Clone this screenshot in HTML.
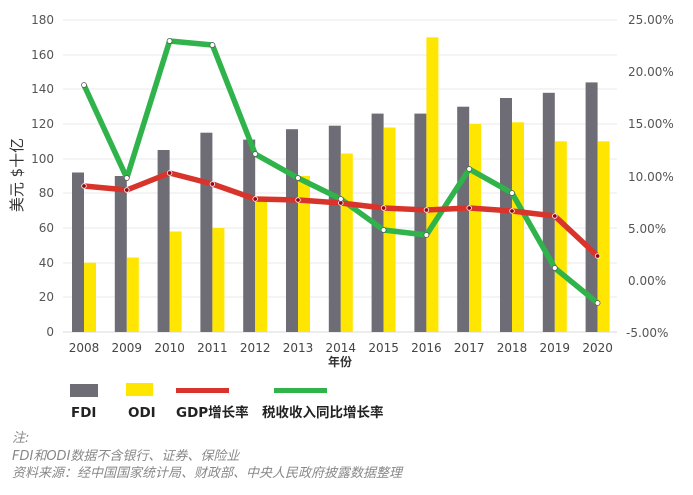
<!DOCTYPE html>
<html><head><meta charset="utf-8"><style>
body{margin:0;background:#fff;width:693px;height:495px;overflow:hidden}
svg{display:block}
text{font-family:"DejaVu Sans","Noto Sans CJK SC",sans-serif}
</style></head><body>
<svg width="693" height="495" viewBox="0 0 693 495">
<g stroke="#e8e8e8" stroke-width="1">
<line x1="63" x2="617" y1="20" y2="20"/><line x1="63" x2="617" y1="55" y2="55"/><line x1="63" x2="617" y1="89" y2="89"/><line x1="63" x2="617" y1="124" y2="124"/><line x1="63" x2="617" y1="159" y2="159"/><line x1="63" x2="617" y1="193" y2="193"/><line x1="63" x2="617" y1="228" y2="228"/><line x1="63" x2="617" y1="263" y2="263"/><line x1="63" x2="617" y1="297" y2="297"/>
</g>
<line x1="63" x2="617" y1="332" y2="332" stroke="#d8d8d8"/>
<g font-size="12" fill="#555" text-anchor="end">
<text x="54" y="24">180</text><text x="54" y="59">160</text><text x="54" y="93">140</text><text x="54" y="128">120</text><text x="54" y="163">100</text><text x="54" y="197">80</text><text x="54" y="232">60</text><text x="54" y="267">40</text><text x="54" y="301">20</text><text x="54" y="336">0</text>
</g>
<g font-size="12" fill="#555">
<text x="628" y="24">25.00%</text><text x="628" y="76">20.00%</text><text x="628" y="128">15.00%</text><text x="628" y="181">10.00%</text><text x="628" y="233">5.00%</text><text x="628" y="285">0.00%</text><text x="626" y="337">-5.00%</text>
</g>
<text transform="translate(22,175) rotate(-90)" font-size="15" fill="#333" text-anchor="middle">美元 $十亿</text>
<g fill="#6e6d76">
<rect x="72" y="172.5" width="12" height="159.5"/><rect x="114.8" y="176" width="12" height="156"/><rect x="157.6" y="150" width="12" height="182"/><rect x="200.4" y="132.7" width="12" height="199.3"/><rect x="243.2" y="139.6" width="12" height="192.4"/><rect x="286" y="129.2" width="12" height="202.8"/><rect x="328.8" y="125.7" width="12" height="206.3"/><rect x="371.6" y="113.6" width="12" height="218.4"/><rect x="414.4" y="113.6" width="12" height="218.4"/><rect x="457.2" y="106.7" width="12" height="225.3"/><rect x="500" y="98" width="12" height="234"/><rect x="542.8" y="92.8" width="12" height="239.2"/><rect x="585.6" y="82.4" width="12" height="249.6"/>
</g>
<g fill="#ffe600">
<rect x="84" y="262.7" width="12" height="69.3"/><rect x="126.8" y="257.5" width="12" height="74.5"/><rect x="169.6" y="231.5" width="12" height="100.5"/><rect x="212.4" y="228" width="12" height="104"/><rect x="255.2" y="196.8" width="12" height="135.2"/><rect x="298" y="176" width="12" height="156"/><rect x="340.8" y="153.5" width="12" height="178.5"/><rect x="383.6" y="127.5" width="12" height="204.5"/><rect x="426.4" y="37.3" width="12" height="294.7"/><rect x="469.2" y="124" width="12" height="208"/><rect x="512" y="122.3" width="12" height="209.7"/><rect x="554.8" y="141.3" width="12" height="190.7"/><rect x="597.6" y="141.3" width="12" height="190.7"/>
</g>
<polyline fill="none" stroke="#2fb34a" stroke-width="5.5" stroke-linejoin="round" points="84,85 126.8,178 169.6,41 212.4,45 255.2,154 298,178 340.8,199 383.6,230 426.4,235 469.2,169 512,193 554.8,268 597.6,303"/>
<polyline fill="none" stroke="#d9342b" stroke-width="5.5" stroke-linejoin="round" points="84,186 126.8,190 169.6,173 212.4,184 255.2,199 298,200 340.8,203 383.6,208 426.4,210 469.2,208 512,211 554.8,216 597.6,256"/>
<g fill="#8b0a14" stroke="#fff" stroke-width="0.8">
<circle cx="84" cy="186" r="2.3"/><circle cx="126.8" cy="190" r="2.3"/><circle cx="169.6" cy="173" r="2.3"/><circle cx="212.4" cy="184" r="2.3"/><circle cx="255.2" cy="199" r="2.3"/><circle cx="298" cy="200" r="2.3"/><circle cx="340.8" cy="203" r="2.3"/><circle cx="383.6" cy="208" r="2.3"/><circle cx="426.4" cy="210" r="2.3"/><circle cx="469.2" cy="208" r="2.3"/><circle cx="512" cy="211" r="2.3"/><circle cx="554.8" cy="216" r="2.3"/><circle cx="597.6" cy="256" r="2.3"/>
</g>
<g fill="#fff" stroke="#555" stroke-width="0.7">
<circle cx="84" cy="85" r="2.5"/><circle cx="126.8" cy="178" r="2.5"/><circle cx="169.6" cy="41" r="2.5"/><circle cx="212.4" cy="45" r="2.5"/><circle cx="255.2" cy="154" r="2.5"/><circle cx="298" cy="178" r="2.5"/><circle cx="340.8" cy="199" r="2.5"/><circle cx="383.6" cy="230" r="2.5"/><circle cx="426.4" cy="235" r="2.5"/><circle cx="469.2" cy="169" r="2.5"/><circle cx="512" cy="193" r="2.5"/><circle cx="554.8" cy="268" r="2.5"/><circle cx="597.6" cy="303" r="2.5"/>
</g>
<g font-size="12" fill="#444" text-anchor="middle">
<text x="84" y="352">2008</text><text x="126.8" y="352">2009</text><text x="169.6" y="352">2010</text><text x="212.4" y="352">2011</text><text x="255.2" y="352">2012</text><text x="298" y="352">2013</text><text x="340.8" y="352">2014</text><text x="383.6" y="352">2015</text><text x="426.4" y="352">2016</text><text x="469.2" y="352">2017</text><text x="512" y="352">2018</text><text x="554.8" y="352">2019</text><text x="597.6" y="352">2020</text>
</g>
<text x="340" y="366" font-size="12" font-weight="bold" fill="#333" text-anchor="middle">年份</text>
<rect x="70" y="384" width="28" height="13" fill="#6e6d76"/>
<rect x="126" y="383" width="27" height="13" fill="#ffe600"/>
<rect x="176" y="388" width="53" height="5" fill="#d9342b"/>
<rect x="274" y="388" width="53" height="5" fill="#2fb34a"/>
<g font-size="13.5" font-weight="bold" fill="#222">
<text x="71" y="417">FDI</text><text x="128" y="417">ODI</text><text x="176" y="417">GDP增长率</text><text x="262" y="417">税收收入同比增长率</text>
</g>
<g font-size="13" fill="#888" font-style="italic">
<text x="12" y="442">注:</text>
<text x="12" y="460">FDI和ODI数据不含银行、证券、保险业</text>
<text x="12" y="477">资料来源：经中国国家统计局、财政部、中央人民政府披露数据整理</text>
</g>
</svg>
</body></html>
